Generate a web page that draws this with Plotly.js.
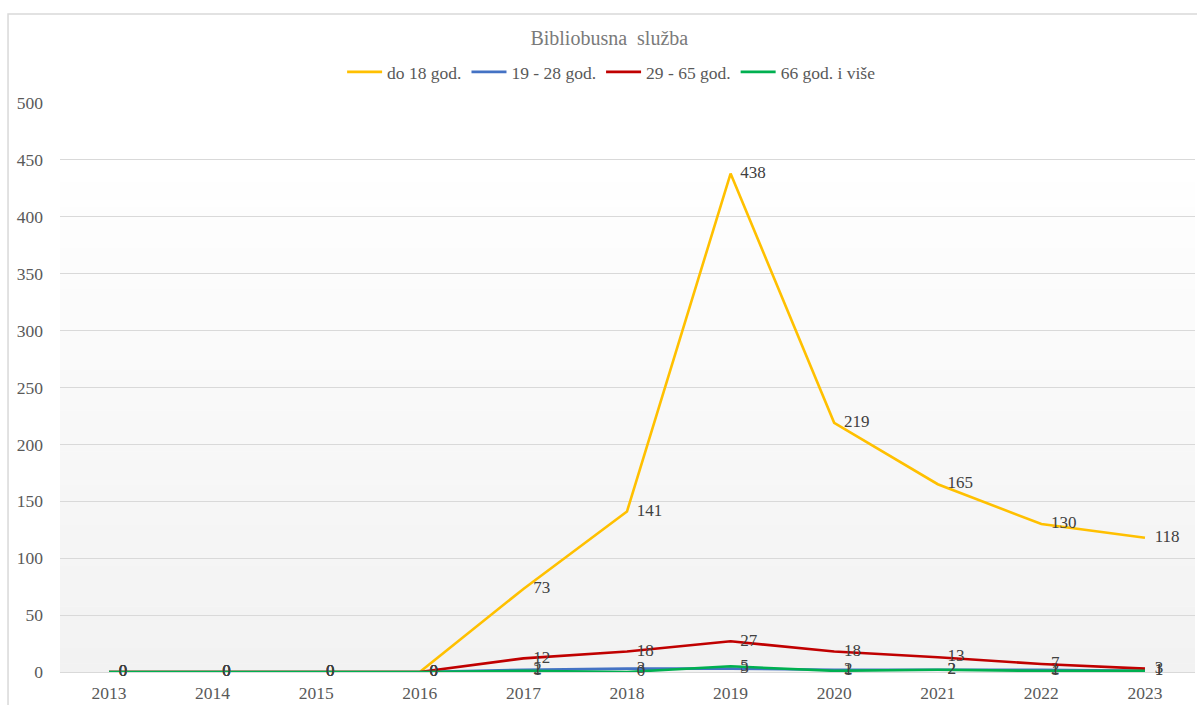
<!DOCTYPE html>
<html>
<head>
<meta charset="utf-8">
<script src="https://cdn.plot.ly/plotly-3.0.1.min.js"></script>
<style>html,body{margin:0;padding:0;background:#fff;}#chart{width:1197px;height:705px;}</style>
</head>
<body>
<div id="chart"></div>
<script>
const years = ['2013','2014','2015','2016','2017','2018','2019','2020','2021','2022','2023'];
const seriesNames = ['do 18 god.', '19 - 28 god.', '29 - 65 god.', '66 god. i više'];
const do18 = [0, 0, 0, 0, 73, 141, 438, 219, 165, 130, 118];
const g19_28 = [0, 0, 0, 0, 2, 3, 3, 2, 2, 2, 1];
const g29_65 = [0, 0, 0, 0, 12, 18, 27, 18, 13, 7, 3];
const g66 = [0, 0, 0, 0, 1, 0, 5, 1, 2, 1, 1];
const yTicks = [0, 50, 100, 150, 200, 250, 300, 350, 400, 450, 500];
const chartTitle = 'Bibliobusna\u00a0 služba';

const colors = ['#FFC000', '#4472C4', '#C00000', '#00B050'];
const allSeries = [do18, g19_28, g29_65, g66];
const serif = 'Liberation Serif';

const traces = allSeries.map((vals, i) => ({
  type: 'scatter',
  mode: 'lines+markers+text',
  x: years,
  y: vals,
  name: seriesNames[i],
  text: vals.map(String),
  textposition: 'middle right',
  textfont: {family: serif, size: 17, color: '#404040'},
  line: {color: colors[i], width: 2.6},
  marker: {size: 14, color: 'rgba(0,0,0,0)', line: {width: 0}},
  cliponaxis: false,
  hoverinfo: 'x+y+name'
}));

// decorative background gradient + outer border
const shapes = [];
const nBands = 60, gTop = 0.86;
for (let k = 0; k < nBands; k++) {
  const t = k / (nBands - 1);
  const c = Math.round(0xf2 + (0xfe - 0xf2) * t);
  const hex = '#' + c.toString(16).repeat(3);
  shapes.push({type: 'rect', xref: 'paper', yref: 'paper', layer: 'below',
    x0: 0, x1: 1, y0: gTop * k / nBands, y1: gTop * (k + 1) / nBands + 0.001,
    fillcolor: hex, line: {width: 0}});
}
shapes.push({type: 'rect', xref: 'paper', yref: 'paper', layer: 'below',
  x0: -0.0458, x1: 1.01, y0: -0.07, y1: 1.1564,
  fillcolor: 'rgba(0,0,0,0)', line: {color: '#d9d9d9', width: 1.5}});

const layout = {
  width: 1197, height: 705,
  margin: {l: 60, r: 2, t: 103, b: 33},
  paper_bgcolor: '#ffffff',
  plot_bgcolor: '#ffffff',
  font: {family: serif, color: '#595959', size: 17},
  showlegend: true,
  title: {text: chartTitle, x: 0.509, xanchor: 'center', y: 0.946, yanchor: 'middle',
    font: {family: serif, size: 20, color: '#7a7a7a'}},
  legend: {orientation: 'h', x: 0.486, xanchor: 'center', y: 1.0545, yanchor: 'middle',
    font: {family: serif, size: 17.5, color: '#595959'}, itemwidth: 35, traceorder: 'normal',
    bgcolor: 'rgba(0,0,0,0)'},
  xaxis: {type: 'category', range: [-0.473, 10.483], showgrid: false, zeroline: false,
    showline: false, ticks: '', ticklabelstandoff: 8,
    tickfont: {family: serif, size: 17.5, color: '#595959'}, fixedrange: true},
  yaxis: {range: [0, 500], tickvals: yTicks, ticktext: yTicks.map(String), showgrid: true,
    gridcolor: '#d9d9d9', gridwidth: 1, zeroline: true, zerolinecolor: '#d9d9d9', zerolinewidth: 1,
    showline: false, ticks: '', ticklabelstandoff: 16,
    tickfont: {family: serif, size: 17.5, color: '#595959'}, fixedrange: true},
  shapes: shapes
};

Plotly.newPlot('chart', traces, layout, {displayModeBar: false, staticPlot: true});
</script>
</body>
</html>
